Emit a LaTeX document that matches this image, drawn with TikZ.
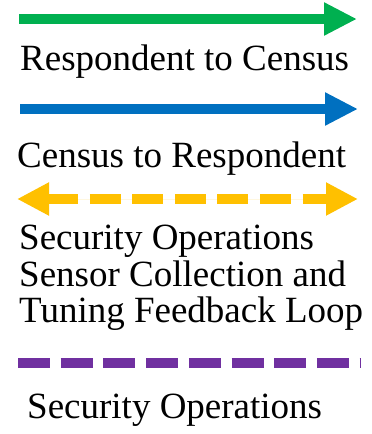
\documentclass[tikz,border=0pt]{standalone}
\usepackage{fontspec}
\setmainfont{Liberation Serif}
\usetikzlibrary{arrows.meta}
\usetikzlibrary{positioning}

\definecolor{respgreen}{HTML}{00B050}
\definecolor{censblue}{HTML}{0070C0}
\definecolor{loopyellow}{HTML}{FFC000}
\definecolor{secpurple}{HTML}{7030A0}

\begin{document}
\begin{tikzpicture}[x=1pt,y=-1pt,
                every node/.style={inner sep=0pt, anchor=base west, font=\fontsize{37}{37}\selectfont},
                flowline/.style={line width=10.5pt, -{Triangle[length=33pt,width=31pt]}},
                loopline/.style={line width=10.5pt, draw=loopyellow,
                    {Triangle[length=32pt,width=31pt]}-{Triangle[length=32pt,width=31pt]},
                    dash pattern=on 31pt off 11.6pt},
                secline/.style={line width=10.5pt, draw=secpurple, dash pattern=on 32pt off 10.7pt}]
            \useasboundingbox (0,0) rectangle (372,434);

            % legend entries
            \coordinate (g1) at (19,19);
            \coordinate (g2) at (357,19);
            \draw[flowline, draw=respgreen, fill=respgreen] (g1) -- (g2);
            \node (resp) at (20,70) {Respondent to Census};

            \coordinate (b1) at (20,109);
            \coordinate (b2) at (358,109);
            \draw[flowline, draw=censblue, fill=censblue] (b1) -- (b2);
            \node (cens) at (17,167) {Census to Respondent};

            \coordinate (y1) at (17,199);
            \coordinate (y2) at (358,199);
            \draw[loopline, fill=loopyellow] (y1) -- (y2);
            \node (sec1) at (19,249) {Security Operations};
            \node (sec2) at (19,286) {Sensor Collection and};
            \node (sec3) at (19,322) {Tuning Feedback Loop};

            \coordinate (p1) at (18,363);
            \coordinate (p2) at (361,363);
            \draw[secline] (p1) -- (p2);
            \node (secops) at (27,418) {Security Operations};
        \end{tikzpicture}
\end{document}
